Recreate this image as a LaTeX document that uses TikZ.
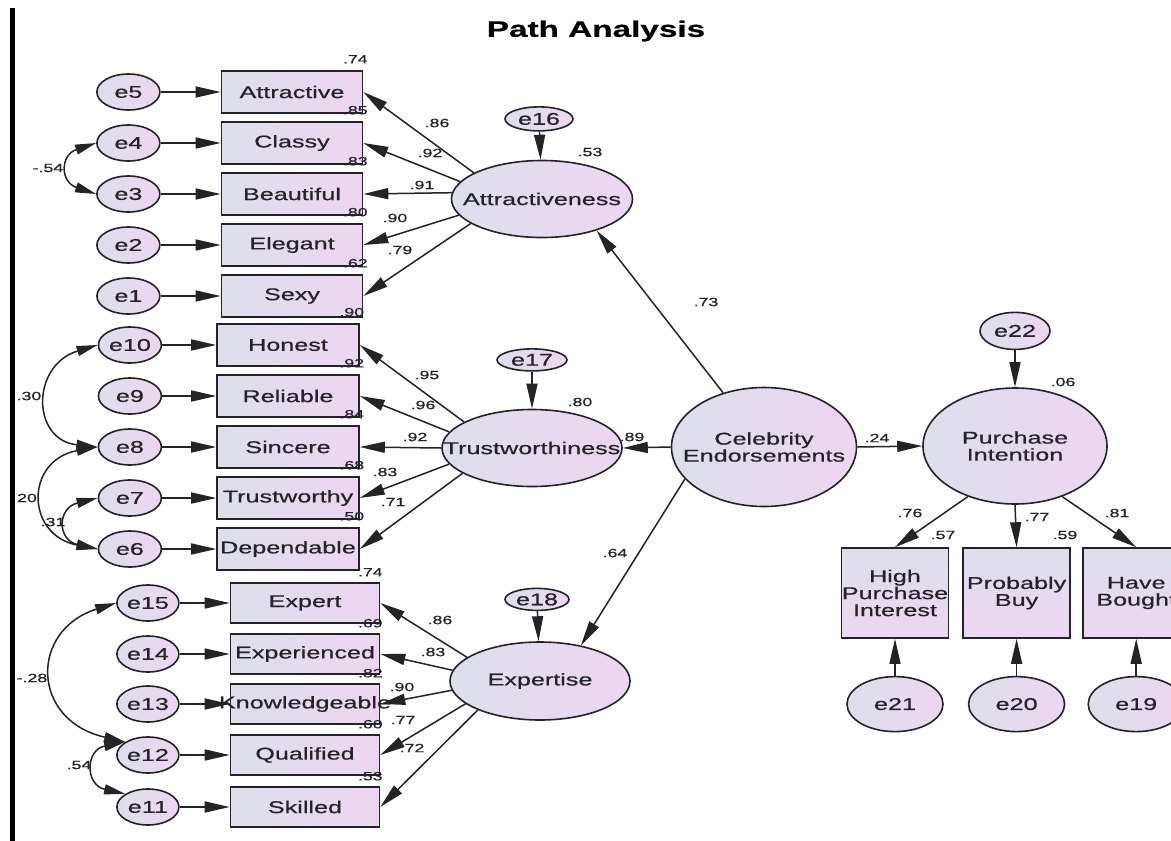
\documentclass[tikz,border=0pt]{standalone}
\usepackage{fontspec}
\setmainfont{Liberation Sans}[FakeStretch=1.48, FakeBold=0.6]
\usepackage{tikz}
\usetikzlibrary{arrows.meta,positioning,shapes.geometric}
\definecolor{ink}{RGB}{35,35,40}
\definecolor{fadeblue}{RGB}{221,223,235}
\definecolor{fadepink}{RGB}{237,214,241}

\begin{document}
\begin{tikzpicture}[x=1pt, y=-1pt, font=\fontsize{17}{17}\selectfont, text=ink,
 obs/.style={draw=ink, line width=1.6pt, left color=fadeblue, right color=fadepink, minimum width=141pt, minimum height=42pt, inner xsep=0pt},
 obsx/.style={obs, minimum width=149pt, minimum height=40pt},
 obsy/.style={obs, top color=fadeblue, bottom color=fadepink, minimum width=107pt, minimum height=90pt, align=center},
 lat/.style={ellipse, draw=ink, line width=1.6pt, left color=fadeblue, right color=fadepink, minimum width=181pt, minimum height=77pt, inner sep=0pt},
 err/.style={ellipse, draw=ink, line width=1.6pt, left color=fadeblue, right color=fadepink, minimum width=63pt, minimum height=36pt, inner sep=0pt},
 errs/.style={err, minimum width=68pt, minimum height=24pt},
 errb/.style={err, minimum width=96pt, minimum height=55pt},
 num/.style={font=\fontsize{12}{12}\selectfont, inner sep=0pt},
 arr/.style={-{Triangle[length=25pt,width=11pt]}, line width=1.5pt, draw=ink},
 cov/.style={{Triangle[length=21pt,width=10pt]}-{Triangle[length=21pt,width=10pt]}, line width=1.5pt, draw=ink}]
\clip (0,0) rectangle (1171,841);
\fill[white] (0,0) rectangle (1171,841);
\fill[black] (10,8) rectangle (15,841);
\node[font=\fontsize{22.5}{24}\selectfont\bfseries, text=black] (title) at (596,31) {Path Analysis};

% indicators
\node[obs] (attv) at (292,92) {Attractive};
\node[obs] (clas) at (292,143) {Classy};
\node[obs] (beau) at (292,194) {Beautiful};
\node[obs] (eleg) at (292,245) {Elegant};
\node[obs] (sexy) at (292,296) {Sexy};
\node[obs, minimum width=142pt] (hone) at (288,345) {Honest};
\node[obs, minimum width=142pt] (reli) at (288,396) {Reliable};
\node[obs, minimum width=142pt] (sinc) at (288,447) {Sincere};
\node[obs, minimum width=142pt] (trwo) at (288,498) {Trustworthy};
\node[obs, minimum width=142pt] (depe) at (288,549) {Dependable};
\node[obsx] (expe) at (305,603) {Expert};
\node[obsx] (expd) at (305,654) {Experienced};
\node[obsx] (know) at (305,704) {\makebox[0pt]{Knowledgeable}};
\node[obsx] (qual) at (305,755) {Qualified};
\node[obsx] (skil) at (305,807) {Skilled};

% errors of indicators
\node[err, left=60pt of attv] (e5) {e5};
\node[err, left=60pt of clas] (e4) {e4};
\node[err, left=60pt of beau] (e3) {e3};
\node[err, left=60pt of eleg] (e2) {e2};
\node[err, left=60pt of sexy] (e1) {e1};
\node[err, left=54pt of hone] (e10) {e10};
\node[err, left=54pt of reli] (e9) {e9};
\node[err, left=54pt of sinc] (e8) {e8};
\node[err, left=54pt of trwo] (e7) {e7};
\node[err, left=54pt of depe] (e6) {e6};
\node[err, minimum width=62pt, left=50pt of expe] (e15) {e15};
\node[err, minimum width=62pt, left=50pt of expd] (e14) {e14};
\node[err, minimum width=62pt, left=50pt of know] (e13) {e13};
\node[err, minimum width=62pt, left=50pt of qual] (e12) {e12};
\node[err, minimum width=62pt, left=50pt of skil] (e11) {e11};

% latent variables
\node[lat, label={center:Attractiveness}] (attr) at (542,199) {};
\node[lat, minimum width=180pt, label={center:Trustworthiness}] (trust) at (532,448) {};
\node[lat, minimum width=180pt, minimum height=78pt, label={center:Expertise}] (expt) at (540,681) {};
\node[lat, minimum width=185pt, minimum height=119pt, label={[align=center]center:Celebrity\\Endorsements}] (celeb) at (764,447) {};
\node[lat, minimum width=184pt, minimum height=116pt, label={[align=center]center:Purchase\\Intention}] (purch) at (1015,446) {};
\node[errs, above=28pt of attr, xshift=-3pt] (e16) {e16};
\node[errs, minimum width=70pt, minimum height=22pt, above=37pt of trust] (e17) {e17};
\node[errs, minimum width=64pt, minimum height=22pt, above=30pt of expt, xshift=-3pt] (e18) {e18};
\node[err, minimum width=70pt, minimum height=37pt, above=37pt of purch] (e22) {e22};

% outcome indicators
\node[obsy] (high) at (895,593) {High\\Purchase\\Interest};
\node[obsy, right=13pt of high] (prob) {Probably\\Buy};
\node[obsy, right=11pt of prob] (have) {Have\\Bought};
\node[errb, below=37pt of high] (e21) {e21};
\node[errb, below=37pt of prob] (e20) {e20};
\node[errb, below=37pt of have] (e19) {e19};

% paths
\draw[arr] (e5) -- (attv); \draw[arr] (e4) -- (clas); \draw[arr] (e3) -- (beau); \draw[arr] (e2) -- (eleg); \draw[arr] (e1) -- (sexy);
\draw[arr] (e10) -- (hone); \draw[arr] (e9) -- (reli); \draw[arr] (e8) -- (sinc); \draw[arr] (e7) -- (trwo); \draw[arr] (e6) -- (depe);
\draw[arr] (e15) -- (expe); \draw[arr] (e14) -- (expd); \draw[arr] (e13) -- (know); \draw[arr] (e12) -- (qual); \draw[arr] (e11) -- (skil);
\draw[arr] (attr.159) -- (attv.east); \draw[arr] (attr.168) -- (clas.east); \draw[arr] (attr.176) -- (beau.east); \draw[arr] (attr.191) -- (eleg.east); \draw[arr] (attr.199) -- (sexy.east);
\draw[arr] (trust.159) -- (hone.east); \draw[arr] (trust.169) -- (reli.east); \draw[arr] (trust.west) -- (sinc.east); \draw[arr] (trust.191) -- (trwo.east); \draw[arr] (trust.200) -- (depe.east);
\draw[arr] (expt.162) -- (expe.east); \draw[arr] (expt.173) -- (expd.east); \draw[arr] (expt.186) -- (know.east); \draw[arr] (expt.197) -- (qual.east); \draw[arr] (expt.205) -- (skil.east);
\draw[arr] (e16) -- (attr); \draw[arr] (e17) -- (trust); \draw[arr] (e18) -- (expt); \draw[arr] (e22) -- (purch);
\draw[arr] (celeb.127) -- (attr.-30); \draw[arr] (celeb.west) -- (trust.east); \draw[arr] (celeb.202) -- (expt.41); \draw[arr] (celeb.east) -- (purch.west);
\draw[arr] (purch.227) -- (high.north); \draw[arr] (purch.south) -- (prob.north); \draw[arr] (purch.-47) -- (have.north);
\draw[arr] (e21) -- (high); \draw[arr] (e20) -- (prob); \draw[arr] (e19) -- (have);

% covariances
\draw[cov] (e4.west) .. controls (60,155) and (60,182) .. (e3.west);
\draw[cov] (e10.west) .. controls (31,365) and (31,440) .. (e8.west);
\draw[cov] (e8.west) .. controls (25,460) and (25,535) .. (e6.west);
\draw[cov] (e7.west) .. controls (57,508) and (57,540) .. (e6.west);
\draw[cov] (e15.west) .. controls (30,630) and (30,720) .. (e12.150);
\draw[cov] (e12.150) .. controls (85,750) and (85,785) .. (e11.150);

% estimates
\node[num] (ca) at (48,168) {-.54};
\node[num] (cb) at (29,396) {.30};
\node[num] (cc) at (27,498) {20};
\node[num] (cd) at (53,522) {.31};
\node[num] (ce) at (32,678) {-.28};
\node[num] (cf) at (79,765) {.54};
\node[num] (la1) at (437,123) {.86}; \node[num] (la2) at (430,153) {.92}; \node[num] (la3) at (422,185) {.91}; \node[num] (la4) at (395,218) {.90}; \node[num] (la5) at (400,250) {.79};
\node[num] (lt1) at (427,375) {.95}; \node[num] (lt2) at (423,405) {.96}; \node[num] (lt3) at (415,437) {.92}; \node[num] (lt4) at (385,472) {.83}; \node[num] (lt5) at (393,502) {.71};
\node[num] (lx1) at (440,620) {.86}; \node[num] (lx2) at (433,652) {.83}; \node[num] (lx3) at (402,687) {.90}; \node[num] (lx4) at (403,720) {.77}; \node[num] (lx5) at (412,748) {.72};
\node[num] (ra1) at ([shift={(-8,-11)}]attv.north east) {.74};
\node[num] (ra2) at ([shift={(-8,-11)}]clas.north east) {.85};
\node[num] (ra3) at ([shift={(-8,-11)}]beau.north east) {.83};
\node[num] (ra4) at ([shift={(-8,-11)}]eleg.north east) {.80};
\node[num] (ra5) at ([shift={(-8,-11)}]sexy.north east) {.62};
\node[num] (rt1) at ([shift={(-8,-11)}]hone.north east) {.90};
\node[num] (rt2) at ([shift={(-8,-11)}]reli.north east) {.92};
\node[num] (rt3) at ([shift={(-8,-11)}]sinc.north east) {.84};
\node[num] (rt4) at ([shift={(-8,-11)}]trwo.north east) {.68};
\node[num] (rt5) at ([shift={(-8,-11)}]depe.north east) {.50};
\node[num] (rx1) at ([shift={(-10,-10)}]expe.north east) {.74};
\node[num] (rx2) at ([shift={(-10,-10)}]expd.north east) {.69};
\node[num] (rx3) at ([shift={(-10,-10)}]know.north east) {.82};
\node[num] (rx4) at ([shift={(-10,-10)}]qual.north east) {.60};
\node[num] (rx5) at ([shift={(-10,-10)}]skil.north east) {.53};
\node[num] (r16) at (590,152) {.53};
\node[num] (r17) at (580,402) {.80};
\node[num] (r22) at (1063,382) {.06};
\node[num] (p73) at (706,302) {.73};
\node[num] (p89) at (632,437) {.89};
\node[num] (p64) at (615,553) {.64};
\node[num] (p24) at (877,438) {.24};
\node[num] (l76) at (910,513) {.76};
\node[num] (l77) at (1037,517) {.77};
\node[num] (l81) at (1117,513) {.81};
\node[num] (r57) at (943,535) {.57};
\node[num] (r59) at (1065,535) {.59};
\end{tikzpicture}
\end{document}
